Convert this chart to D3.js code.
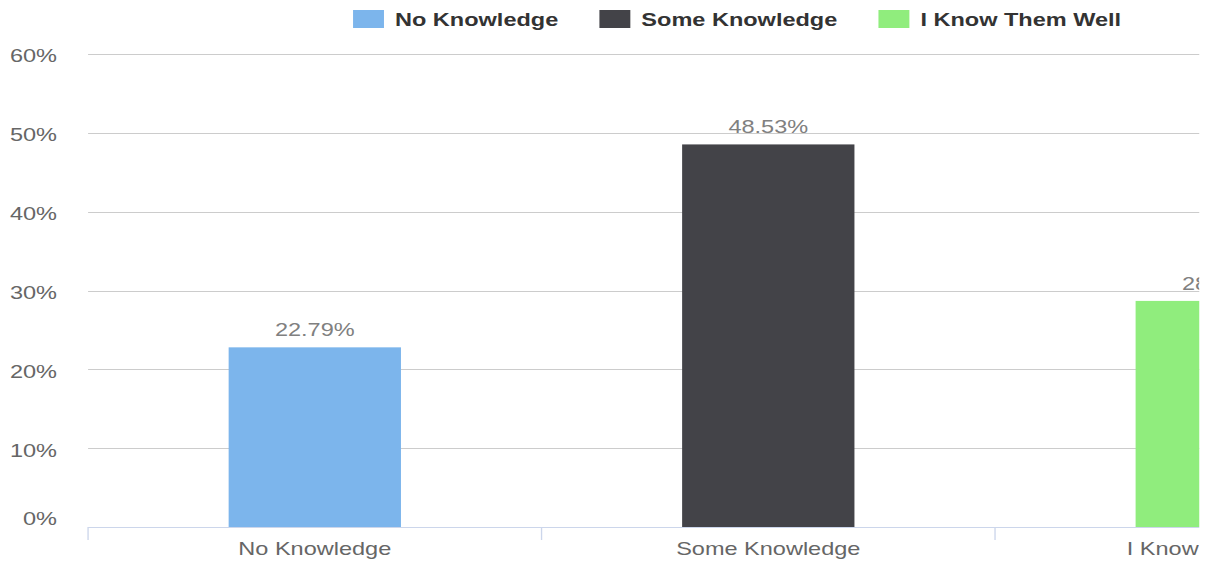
<!DOCTYPE html>
<html>
<head>
<meta charset="utf-8">
<script src="https://cdn.jsdelivr.net/npm/d3@7"></script>
<style>
  html, body { margin: 0; padding: 0; background: #ffffff; overflow: hidden; }
  svg { display: block; }
  text { font-family: "Liberation Sans", Arial, sans-serif; }
</style>
</head>
<body>
<svg id="chart"></svg>
<script>
// ---- data ----
const categories = ["No Knowledge", "Some Knowledge", "I Know Them Well"];
const values = [22.79, 48.53, 28.68];
const seriesColors = ["#7cb5ec", "#434348", "#90ed7d"];
const yTicks = [0, 10, 20, 30, 40, 50, 60];
const yTickLabels = ["0%", "10%", "20%", "30%", "40%", "50%", "60%"];

// ---- layout (drawing space is stretched horizontally to the window) ----
const VW = 900, VH = 565;
const svg = d3.select("#chart")
  .attr("width", 1210).attr("height", 565)
  .attr("viewBox", `0 0 ${VW} ${VH}`)
  .attr("preserveAspectRatio", "none");

const plotLeft = 65.5, plotRight = 1077.4, plotTop = 54, plotBottom = 527;
const visibleRight = 892;
const FS = 17.5;

svg.append("defs").append("clipPath").attr("id", "clip")
  .append("rect").attr("x", 0).attr("y", 0).attr("width", visibleRight).attr("height", VH);

const root = svg.append("g").attr("clip-path", "url(#clip)");

const x = d3.scaleBand().domain(categories).range([plotLeft, plotRight]).padding(0);
const y = d3.scaleLinear().domain([0, 60]).range([plotBottom, plotTop]);
const barW = x.bandwidth() * 0.38;

// grid lines
root.append("g").selectAll("line").data(yTicks.filter(d => d !== 0)).join("line")
  .attr("x1", plotLeft).attr("x2", plotRight)
  .attr("y1", d => Math.round(y(d)) + 0.5).attr("y2", d => Math.round(y(d)) + 0.5)
  .attr("stroke", "#cccccc").attr("stroke-width", 1);

// y labels
root.append("g").selectAll("text").data(yTicks).join("text")
  .attr("x", 42.4)
  .attr("y", d => y(d) + (d === 0 ? -2 : 8.5))
  .attr("text-anchor", "end")
  .attr("fill", "#666666")
  .attr("font-size", FS)
  .text((d, i) => yTickLabels[i]);

// bars
root.append("g").selectAll("rect").data(values).join("rect")
  .attr("x", (d, i) => x(categories[i]) + (x.bandwidth() - barW) / 2)
  .attr("width", barW)
  .attr("y", d => y(d))
  .attr("height", d => y(0) - y(d))
  .attr("fill", (d, i) => seriesColors[i]);

// value labels
root.append("g").selectAll("text").data(values).join("text")
  .attr("x", (d, i) => x(categories[i]) + x.bandwidth() / 2)
  .attr("y", d => y(d) - 11)
  .attr("text-anchor", "middle")
  .attr("fill", "#808080")
  .attr("font-size", FS)
  .text(d => d.toFixed(2) + "%");

// x axis line
root.append("line")
  .attr("x1", plotLeft).attr("x2", plotRight)
  .attr("y1", plotBottom + 0.5).attr("y2", plotBottom + 0.5)
  .attr("stroke", "#ccd6eb").attr("stroke-width", 1);

// x ticks at band boundaries
const tickPos = categories.map(c => x(c)).concat([x(categories[categories.length - 1]) + x.bandwidth()]);
root.append("g").selectAll("line").data(tickPos).join("line")
  .attr("x1", d => d).attr("x2", d => d)
  .attr("y1", plotBottom).attr("y2", plotBottom + 13)
  .attr("stroke", "#ccd6eb").attr("stroke-width", 1);

// x labels
root.append("g").selectAll("text").data(categories).join("text")
  .attr("x", d => x(d) + x.bandwidth() / 2)
  .attr("y", 555)
  .attr("text-anchor", "middle")
  .attr("fill", "#666666")
  .attr("font-size", FS)
  .text(d => d);

// legend
const legend = root.append("g");
let lx = 262.6;
categories.forEach((c, i) => {
  legend.append("rect")
    .attr("x", lx).attr("y", 10).attr("width", 23).attr("height", 18)
    .attr("fill", seriesColors[i]);
  const t = legend.append("text")
    .attr("x", lx + 31.2).attr("y", 26.5)
    .attr("fill", "#333333")
    .attr("font-size", FS)
    .attr("font-weight", "bold")
    .text(c);
  lx = lx + 31.2 + t.node().getComputedTextLength() + 30.6;
});
</script>
</body>
</html>
